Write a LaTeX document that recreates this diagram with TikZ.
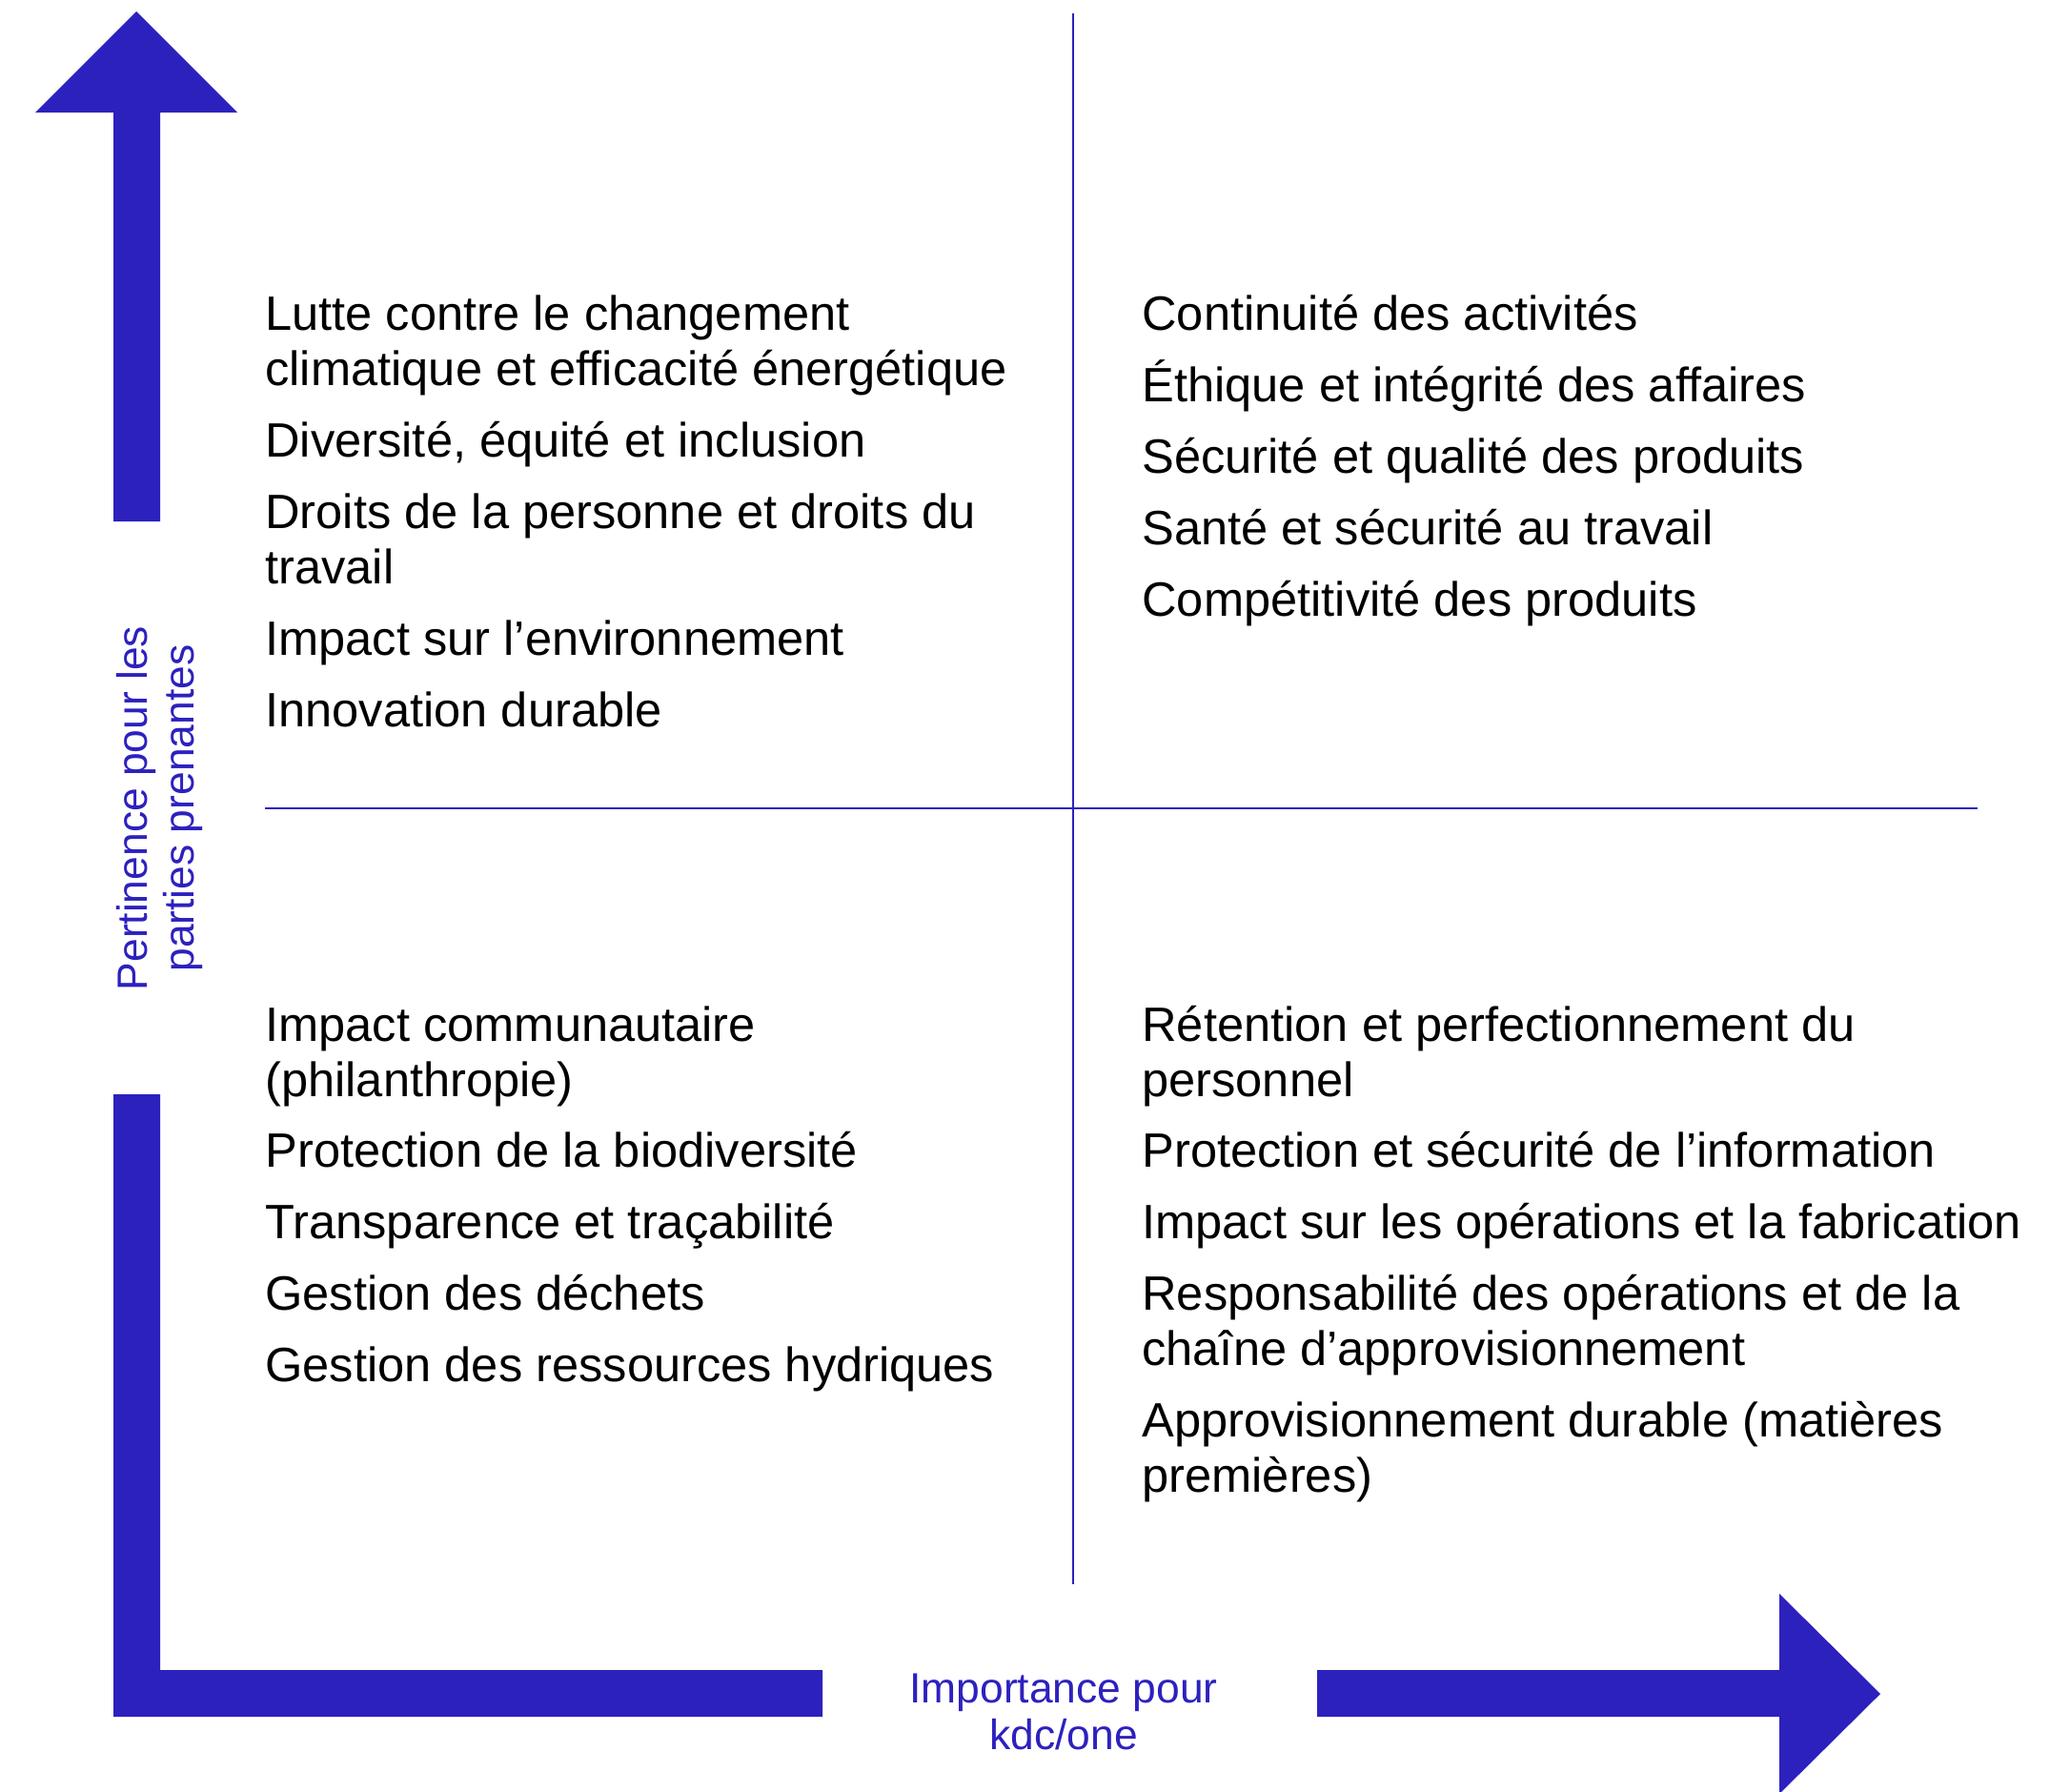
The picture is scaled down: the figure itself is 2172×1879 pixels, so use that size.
\documentclass[tikz,border=0pt]{standalone}
\usepackage{fontspec}
\setmainfont{Liberation Sans}
\definecolor{kblue}{HTML}{2D21BE}
\begin{document}
\begin{tikzpicture}[x=0.5pt,y=-0.5pt,
  item/.style={anchor=base west, inner sep=0pt, align=left, text=black,
    font=\fontsize{25.3}{29}\selectfont},
  axislabel/.style={anchor=base, inner sep=0pt, align=center, text=kblue,
    font=\fontsize{22.2}{24.5}\selectfont},
  bigarrow/.style={fill=kblue, draw=none},
  divider/.style={draw=kblue, line width=0.8pt}]
\useasboundingbox (0,0) rectangle (2172,1879);
% arrows
\fill[bigarrow] (119,547) -- (119,118) -- (37,118) -- (143,12) -- (249,118) -- (168,118) -- (168,547) -- cycle;
\fill[bigarrow] (119,1148) -- (168,1148) -- (168,1752) -- (863,1752) -- (863,1801) -- (119,1801) -- cycle;
\fill[bigarrow] (1382,1752) -- (1867,1752) -- (1867,1672) -- (1973,1777) -- (1867,1882) -- (1867,1801) -- (1382,1801) -- cycle;
% dividers
\coordinate (vtop) at (1126,14);
\coordinate (vbot) at (1126,1662);
\coordinate (hl) at (278,848);
\coordinate (hr) at (2075,848);
\draw[divider] (vtop) -- (vbot);
\draw[divider] (hl) -- (hr);
% axis labels (base anchor = baseline of last line)
\node[axislabel, rotate=90] (ylab) at (203,848) {Pertinence pour les\\parties prenantes};
\node[axislabel] (xlab) at (1116,1835) {Importance pour\\kdc/one};
% top-left
\node[item] (tl1) at (278,404) {Lutte contre le changement\\climatique et efficacité énergétique};
\node[item] (tl2) at (278,479) {Diversité, équité et inclusion};
\node[item] (tl3) at (278,612) {Droits de la personne et droits du\\travail};
\node[item] (tl4) at (278,687) {Impact sur l’environnement};
\node[item] (tl5) at (278,762) {Innovation durable};
% top-right
\node[item] (tr1) at (1198,346) {Continuité des activités};
\node[item] (tr2) at (1198,421) {Éthique et intégrité des affaires};
\node[item] (tr3) at (1198,496) {Sécurité et qualité des produits};
\node[item] (tr4) at (1198,571) {Santé et sécurité au travail};
\node[item] (tr5) at (1198,646) {Compétitivité des produits};
% bottom-left
\node[item] (bl1) at (278,1150) {Impact communautaire\\(philanthropie)};
\node[item] (bl2) at (278,1224) {Protection de la biodiversité};
\node[item] (bl3) at (278,1299) {Transparence et traçabilité};
\node[item] (bl4) at (278,1374) {Gestion des déchets};
\node[item] (bl5) at (278,1449) {Gestion des ressources hydriques};
% bottom-right
\node[item] (br1) at (1198,1150) {Rétention et perfectionnement du\\personnel};
\node[item] (br2) at (1198,1224) {Protection et sécurité de l’information};
\node[item] (br3) at (1198,1299) {Impact sur les opérations et la fabrication};
\node[item] (br4) at (1198,1432) {Responsabilité des opérations et de la\\chaîne d’approvisionnement};
\node[item] (br5) at (1198,1565) {Approvisionnement durable (matières\\premières)};
\end{tikzpicture}
\end{document}
